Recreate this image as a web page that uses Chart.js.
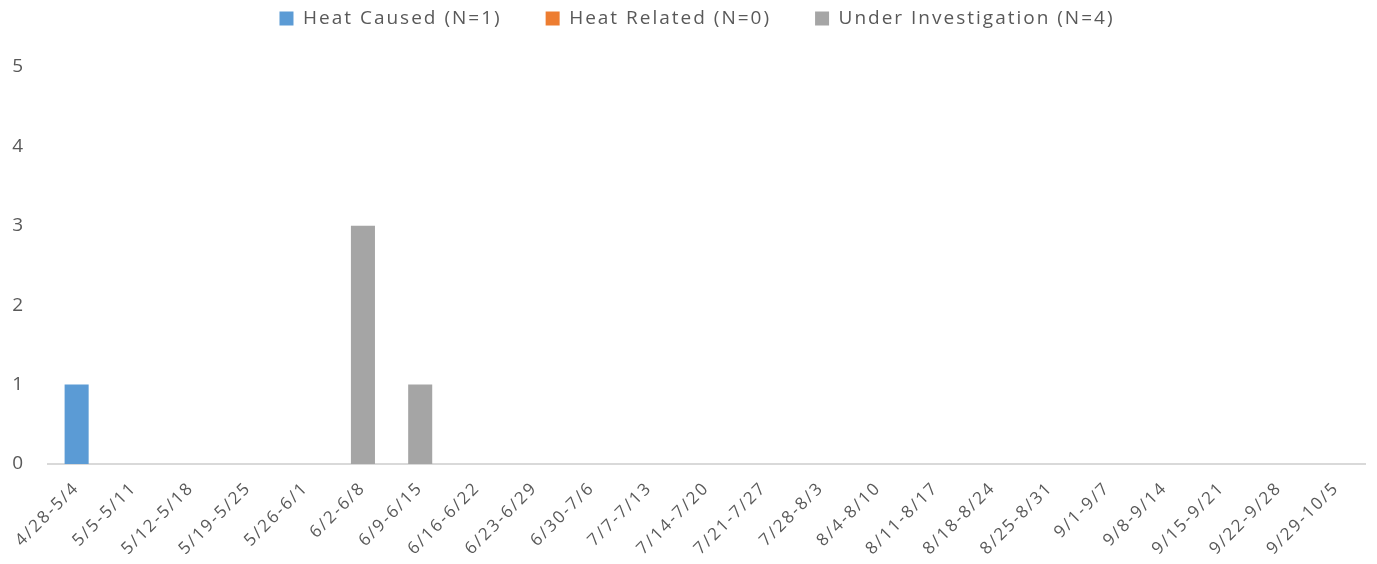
<!DOCTYPE html>
<html>
<head>
<meta charset="utf-8">
<script src="https://cdn.jsdelivr.net/npm/chart.js@4/dist/chart.umd.min.js"></script>
<style>
  html, body { margin: 0; padding: 0; background: #fff; }
  #wrap { width: 1377px; height: 564px; position: relative; }
</style>
</head>
<body>
<div id="wrap"><canvas id="barChart"></canvas></div>
<script>
const weeks = ['4/28-5/4','5/5-5/11','5/12-5/18','5/19-5/25','5/26-6/1','6/2-6/8','6/9-6/15',
  '6/16-6/22','6/23-6/29','6/30-7/6','7/7-7/13','7/14-7/20','7/21-7/27','7/28-8/3','8/4-8/10',
  '8/11-8/17','8/18-8/24','8/25-8/31','9/1-9/7','9/8-9/14','9/15-9/21','9/22-9/28','9/29-10/5'];
const heatCaused   = [1,0,0,0,0,0,0,0,0,0,0,0,0,0,0,0,0,0,0,0,0,0,0];
const heatRelated  = [0,0,0,0,0,0,0,0,0,0,0,0,0,0,0,0,0,0,0,0,0,0,0];
const underInvest  = [0,0,0,0,0,3,1,0,0,0,0,0,0,0,0,0,0,0,0,0,0,0,0];
const yTicks = [0,1,2,3,4,5];

const textColor = '#595959';

// the original text is widely spaced, canvas state gets reset on resize so set it each time
const spacing = {
  id: 'spacing',
  beforeLayout(chart) { chart.ctx.letterSpacing = '2px'; },
  beforeDraw(chart) { chart.ctx.letterSpacing = '2px'; }
};

// legend needs wide gaps between items but must sit near the top
const legendSpace = {
  id: 'legendSpace',
  afterInit(chart) {
    const fit = chart.legend.fit;
    chart.legend.fit = function() {
      fit.bind(chart.legend)();
      this.height = 102;
    };
  },
  afterLayout(chart) {
    chart.legend.left = 29; // legend sits a bit right of centre in the original
  }
};

new Chart(document.getElementById('barChart'), {
  type: 'bar',
  data: {
    labels: weeks,
    datasets: [
      { label: 'Heat Caused (N=1)', data: heatCaused, backgroundColor: '#5b9bd5' },
      { label: 'Heat Related (N=0)', data: heatRelated, backgroundColor: '#ed7d31' },
      { label: 'Under Investigation (N=4)', data: underInvest, backgroundColor: '#a5a5a5' }
    ]
  },
  options: {
    responsive: true,
    maintainAspectRatio: false,
    animation: false,
    layout: { padding: { top: -35, right: 12, left: 0, bottom: 0 } },
    datasets: { bar: { categoryPercentage: 1, barPercentage: 0.42, borderWidth: 0 } },
    plugins: {
      legend: {
        position: 'top',
        labels: {
          boxWidth: 14, boxHeight: 14, padding: 44,
          color: textColor,
          font: { family: 'Open Sans', size: 19 }
        }
      },
      tooltip: { enabled: false }
    },
    scales: {
      x: {
        stacked: true,
        grid: { display: false },
        border: { display: true, color: '#d9d9d9', width: 2 },
        ticks: {
          color: textColor, minRotation: 45, maxRotation: 45, autoSkip: false, padding: 6,
          font: { family: 'Open Sans', size: 17 }
        },
        afterFit: s => { s.height = 100; }
      },
      y: {
        stacked: true,
        min: 0, max: 5,
        grid: { display: false, drawTicks: false },
        border: { display: false },
        afterBuildTicks: s => { s.ticks = yTicks.map(v => ({ value: v })); },
        ticks: {
          color: textColor, padding: 23,
          font: { family: 'Open Sans', size: 19 }
        },
        afterFit: s => { s.width = 48; }
      }
    }
  },
  plugins: [spacing, legendSpace]
});
</script>
</body>
</html>
